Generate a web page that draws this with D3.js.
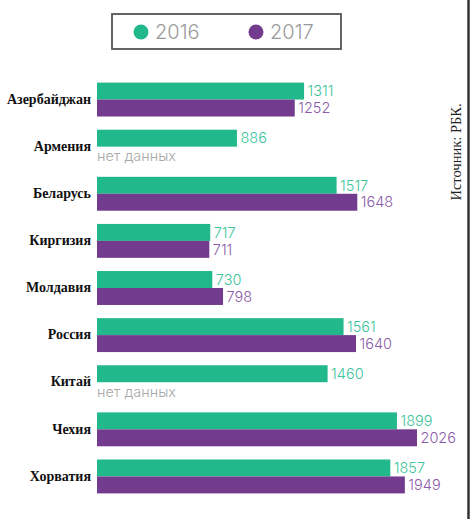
<!DOCTYPE html>
<html><head><meta charset="utf-8">
<script src="https://cdn.jsdelivr.net/npm/d3@7"></script>
<style>body{margin:0;background:#fff}svg{display:block}</style>
</head><body>
<script>
const countries = ["Азербайджан","Армения","Беларусь","Киргизия","Молдавия","Россия","Китай","Чехия","Хорватия"];
const values2016 = [1311, 886, 1517, 717, 730, 1561, 1460, 1899, 1857];
const values2017 = [1252, null, 1648, 711, 798, 1640, null, 2026, 1949];
const seriesNames = ["2016","2017"];
const noDataText = "нет данных";
const sourceText = "Источник: РБК.";

const W = 473, H = 519;
const svg = d3.select("body").append("svg").attr("width", W).attr("height", H);
const colors = {g:"#21b98b", p:"#733b8d", gt:"#3cc49b", pt:"#8b5ba9"};

const x = d3.scaleLinear().domain([0, 2026]).range([97, 417]);
const y = d3.scaleBand().domain(countries).range([76, 500]).paddingInner(0.28).paddingOuter(0.14);
const sub = d3.scaleBand().domain(seriesNames).range([0, y.bandwidth()]);

// frame line at right
svg.append("line").attr("x1",468.5).attr("x2",468.5).attr("y1",0).attr("y2",H)
  .attr("stroke","#333").attr("stroke-width",2.5);

// legend
const leg = svg.append("g");
leg.append("rect").attr("x",112).attr("y",14).attr("width",229).attr("height",35)
  .attr("fill","#fff").attr("stroke","#555").attr("stroke-width",1.8);
[[141,"2016",colors.g],[256,"2017",colors.p]].forEach(([cx,t,c])=>{
  leg.append("circle").attr("cx",cx).attr("cy",32).attr("r",7.5).attr("fill",c);
  leg.append("text").attr("x",cx+14).attr("y",32).attr("dy","0.36em")
    .attr("font-family","Inter, sans-serif").attr("font-size",20).attr("font-weight",300)
    .attr("fill","#9a9a9a").text(t);
});

const g = svg.append("g");
countries.forEach((c,i)=>{
  const y0 = y(c);
  g.append("text").attr("x",91).attr("y",y0 + y.bandwidth()/2).attr("dy","0.3em")
    .attr("text-anchor","end").attr("font-family","'Liberation Serif', 'Times New Roman', serif")
    .attr("font-weight","bold").attr("font-size",14).attr("fill","#111").text(c);
  [[values2016[i],"2016",colors.g,colors.gt],[values2017[i],"2017",colors.p,colors.pt]].forEach(([v,s,c1,c2])=>{
    const yy = y0 + sub(s);
    if (v == null) {
      g.append("text").attr("x",97).attr("y",yy+sub.bandwidth()/2 + 1).attr("dy","0.36em")
        .attr("font-family","Inter, sans-serif").attr("font-size",14.5).attr("font-weight",300)
        .attr("fill","#a8a8a8").text(noDataText);
      return;
    }
    g.append("rect").attr("x",x(0)).attr("y",yy).attr("width",x(v)-x(0)).attr("height",sub.bandwidth())
      .attr("fill",c1);
    g.append("text").attr("x",x(v)+3.5).attr("y",yy+sub.bandwidth()/2).attr("dy","0.36em")
      .attr("font-family","Inter, sans-serif").attr("font-size",14.5).attr("font-weight",300)
      .attr("fill",c2).text(v);
  });
});

svg.append("text").attr("transform","translate(461,152) rotate(-90)")
  .attr("text-anchor","middle").attr("font-family","'Liberation Serif', 'Times New Roman', serif")
  .attr("font-size",14.5).attr("fill","#222").text(sourceText);
</script>
</body></html>
